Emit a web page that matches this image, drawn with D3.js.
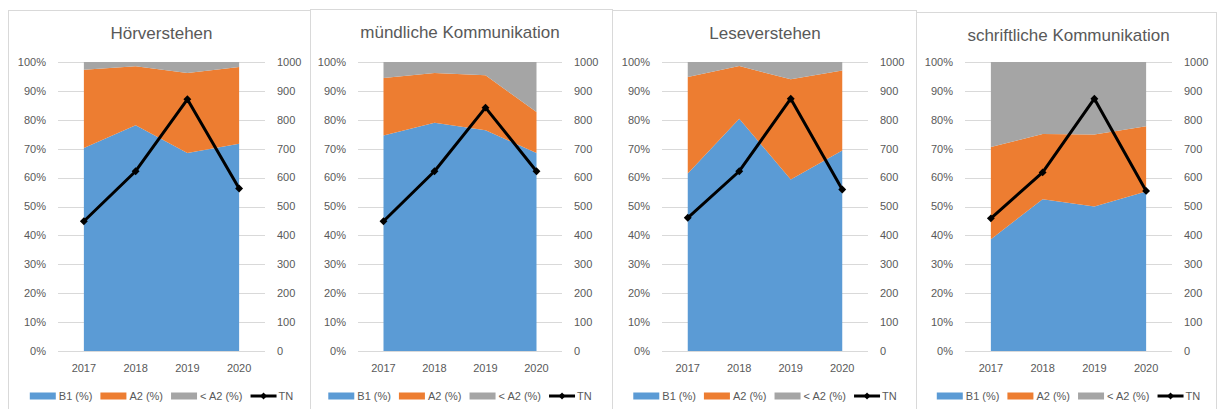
<!DOCTYPE html>
<html>
<head>
<meta charset="utf-8">
<script src="https://cdn.jsdelivr.net/npm/d3@7"></script>
<style>
  body { margin: 0; background: #fff; }
  svg { display: block; font-family: "Liberation Sans", Arial, sans-serif; }
  .tick-label { font-size: 11px; fill: #595959; }
  .title { font-size: 17px; fill: #595959; }
  .legend-label { font-size: 11px; fill: #595959; }
</style>
</head>
<body>
<div id="chart"></div>
<script>
// Data
const years = ["2017", "2018", "2019", "2020"];
const skills = ["Hörverstehen", "mündliche Kommunikation", "Leseverstehen", "schriftliche Kommunikation"];
const seriesNames = ["B1 (%)", "A2 (%)", "< A2 (%)"];
const b1 = [
    [70.2, 78.1, 68.5, 71.7],
    [74.6, 79.0, 76.4, 68.5],
    [61.4, 80.4, 59.3, 69.4],
    [38.7, 52.5, 50.0, 55.2]
];
const a2 = [
    [27.1, 20.4, 27.7, 26.6],
    [19.9, 17.2, 19.0, 14.2],
    [33.4, 18.2, 34.7, 27.7],
    [31.9, 22.6, 24.9, 22.6]
];
const belowA2 = [
    [2.7, 1.5, 3.8, 1.7],
    [5.5, 3.8, 4.6, 17.3],
    [5.2, 1.4, 6.0, 2.9],
    [29.4, 24.9, 25.1, 22.2]
];
const tn = [
    [449, 622, 871, 562],
    [449, 622, 842, 622],
    [461, 622, 873, 559],
    [459, 618, 873, 554]
];
const pctTicks = [0, 10, 20, 30, 40, 50, 60, 70, 80, 90, 100];
const tnTicks = [0, 100, 200, 300, 400, 500, 600, 700, 800, 900, 1000];

// Layout of the four panels (pixel positions)
const panelLeft = [8, 310, 612, 916];
const panelRight = [310, 612, 916, 1216];
const panelTop = [10, 9, 10, 12];
const plotLeft = [58, 358, 662, 965];
const plotRight = [265, 562, 868, 1172];
const plotTop = 62, plotBottom = 351;

const colors = ["#5B9BD5", "#ED7D31", "#A5A5A5"];

const width = 1224, height = 409;
const svg = d3.select("#chart").append("svg")
    .attr("width", width)
    .attr("height", height);

skills.forEach((skill, p) => {
    const g = svg.append("g");

    // panel frame
    g.append("rect")
        .attr("x", panelLeft[p] + 0.5)
        .attr("y", panelTop[p] + 0.5)
        .attr("width", panelRight[p] - panelLeft[p])
        .attr("height", height + 20)
        .attr("fill", "#fff")
        .attr("stroke", "#D9D9D9");

    const x = d3.scalePoint()
        .domain(years)
        .range([plotLeft[p], plotRight[p]])
        .padding(0.5);
    const y = d3.scaleLinear().domain([0, 100]).range([plotBottom, plotTop]);
    const y2 = d3.scaleLinear().domain([0, 1000]).range([plotBottom, plotTop]);

    // gridlines
    g.selectAll(".grid")
        .data(pctTicks)
        .enter().append("line")
        .attr("x1", plotLeft[p])
        .attr("x2", plotRight[p])
        .attr("y1", d => Math.round(y(d)) + 0.5)
        .attr("y2", d => Math.round(y(d)) + 0.5)
        .attr("stroke", "#D9D9D9");

    // stacked areas
    const rows = years.map((yr, i) => ({
        year: yr,
        b1: b1[p][i],
        a2: a2[p][i],
        below: belowA2[p][i]
    }));
    const stack = d3.stack().keys(["b1", "a2", "below"]);
    const area = d3.area()
        .x(d => x(d.data.year))
        .y0(d => y(d[0]))
        .y1(d => y(Math.min(d[1], 100)));
    g.selectAll(".layer")
        .data(stack(rows))
        .enter().append("path")
        .attr("d", area)
        .attr("fill", (d, i) => colors[i]);

    // left axis labels
    g.selectAll(".ltick")
        .data(pctTicks)
        .enter().append("text")
        .attr("class", "tick-label")
        .attr("x", plotLeft[p] - 12)
        .attr("y", d => y(d))
        .attr("dy", "0.35em")
        .attr("text-anchor", "end")
        .text(d => d + "%");

    // right axis labels
    g.selectAll(".rtick")
        .data(tnTicks)
        .enter().append("text")
        .attr("class", "tick-label")
        .attr("x", plotRight[p] + 12)
        .attr("y", d => y2(d))
        .attr("dy", "0.35em")
        .text(d => d);

    // category labels
    g.selectAll(".xtick")
        .data(years)
        .enter().append("text")
        .attr("class", "tick-label")
        .attr("x", d => x(d))
        .attr("y", 368)
        .attr("dy", "0.35em")
        .attr("text-anchor", "middle")
        .text(d => d);

    // TN line
    const line = d3.line()
        .x((d, i) => x(years[i]))
        .y(d => y2(d));
    g.append("path")
        .attr("d", line(tn[p]))
        .attr("fill", "none")
        .attr("stroke", "#000")
        .attr("stroke-width", 3)
        .attr("stroke-linejoin", "round");
    const diamond = d3.symbol().type(d3.symbolDiamond2).size(40);
    g.selectAll(".marker")
        .data(tn[p])
        .enter().append("path")
        .attr("d", diamond)
        .attr("transform", (d, i) => `translate(${x(years[i])},${y2(d)})`)
        .attr("fill", "#000");

    // title
    g.append("text")
        .attr("class", "title")
        .attr("x", (plotLeft[p] + plotRight[p]) / 2)
        .attr("y", panelTop[p] + 23)
        .attr("dy", "0.35em")
        .attr("text-anchor", "middle")
        .text(skill);

    // legend
    const legend = g.append("g");
    let cx = 0;
    const items = seriesNames.concat(["TN"]);
    items.forEach((name, i) => {
        const it = legend.append("g").attr("transform", `translate(${cx},0)`);
        if (i < 3) {
            it.append("rect")
                .attr("x", 0).attr("y", -3.5)
                .attr("width", 26).attr("height", 7)
                .attr("fill", colors[i]);
        } else {
            it.append("line")
                .attr("x1", 0).attr("x2", 26)
                .attr("stroke", "#000").attr("stroke-width", 3);
            it.append("path")
                .attr("d", d3.symbol().type(d3.symbolDiamond2).size(30))
                .attr("transform", "translate(13,0)")
                .attr("fill", "#000");
        }
        const t = it.append("text")
            .attr("class", "legend-label")
            .attr("x", i < 3 ? 29 : 28)
            .attr("dy", "0.35em")
            .text(name);
        cx += (i < 3 ? 29 : 28) + t.node().getComputedTextLength() + 8;
    });
    const legendW = cx - 8;
    legend.attr("transform",
        `translate(${(plotLeft[p] + plotRight[p]) / 2 - legendW / 2},396)`);
});
</script>
</body>
</html>
